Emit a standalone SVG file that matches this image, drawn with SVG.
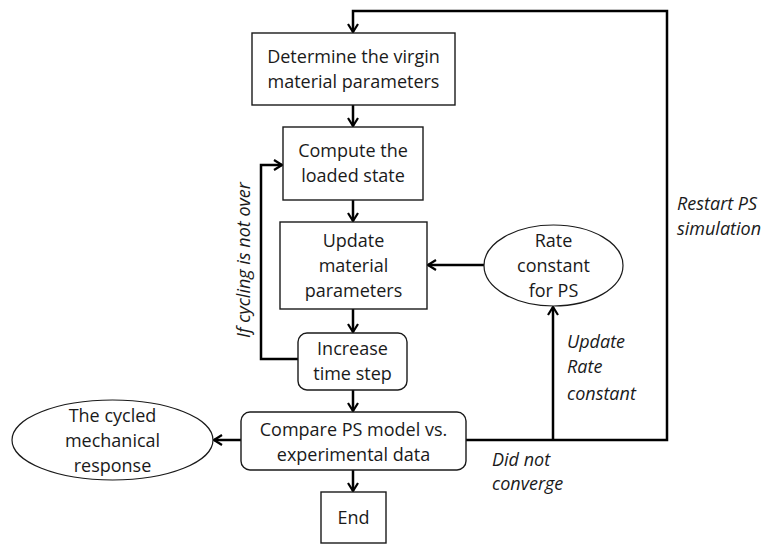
<svg xmlns="http://www.w3.org/2000/svg" width="773" height="547" viewBox="0 0 773 547">
  <style>
    .box { fill: #fff; stroke: #1a1a1a; stroke-width: 1.4; }
    .oval { fill: #fff; stroke: #1a1a1a; stroke-width: 1.2; }
    .wire { fill: none; stroke: #000; stroke-width: 2.5; }
    .t { font-family: "Open Sans", "Liberation Sans", sans-serif; font-size: 18px; fill: #1a1a1a; text-anchor: middle; }
    .lbl { font-family: "Open Sans", "Liberation Sans", sans-serif; font-size: 18px; font-style: italic; fill: #1a1a1a; }
  </style>
  <defs>
    <marker id="arr" viewBox="0 0 10 12" refX="9" refY="6" markerWidth="10" markerHeight="12" markerUnits="userSpaceOnUse" orient="auto">
      <path d="M1,1 L9,6 L1,11" fill="none" stroke="#000" stroke-width="2.2"/>
    </marker>
  </defs>

  <!-- connectors -->
  <g id="connectors">
    <path class="wire" d="M466 440 H667 V11 H353 V32" marker-end="url(#arr)"/>
    <path class="wire" d="M353 105 V126" marker-end="url(#arr)"/>
    <path class="wire" d="M353 200 V221" marker-end="url(#arr)"/>
    <path class="wire" d="M353 309 V332" marker-end="url(#arr)"/>
    <path class="wire" d="M298 359 H261 V165 H282" marker-end="url(#arr)"/>
    <path class="wire" d="M353 390 V411" marker-end="url(#arr)"/>
    <path class="wire" d="M484 265 H428" marker-end="url(#arr)"/>
    <path class="wire" d="M553 440 V307" marker-end="url(#arr)"/>
    <path class="wire" d="M241 440 H214" marker-end="url(#arr)"/>
    <path class="wire" d="M353 470 V491" marker-end="url(#arr)"/>
  </g>

  <g id="virgin">
    <rect class="box" x="252" y="33" width="203" height="72"/>
    <text class="t" x="353.5" y="62.5">Determine the virgin</text>
    <text class="t" x="353.5" y="87.5">material parameters</text>
  </g>

  <g id="loaded">
    <rect class="box" x="283" y="127" width="140" height="73"/>
    <text class="t" x="353" y="157">Compute the</text>
    <text class="t" x="353" y="182">loaded state</text>
  </g>

  <g id="update">
    <rect class="box" x="280" y="222" width="147" height="87"/>
    <text class="t" x="353.5" y="247">Update</text>
    <text class="t" x="353.5" y="272">material</text>
    <text class="t" x="353.5" y="297">parameters</text>
  </g>

  <g id="timestep">
    <rect class="box" x="298" y="333" width="109" height="57" rx="9"/>
    <text class="t" x="352.5" y="355">Increase</text>
    <text class="t" x="352.5" y="380">time step</text>
  </g>

  <g id="compare">
    <rect class="box" x="241" y="412" width="225" height="58" rx="9"/>
    <text class="t" x="353.5" y="436">Compare PS model vs.</text>
    <text class="t" x="353.5" y="461">experimental data</text>
  </g>

  <g id="end">
    <rect class="box" x="321" y="492" width="65" height="51"/>
    <text class="t" x="353.5" y="524">End</text>
  </g>

  <g id="rate">
    <ellipse class="oval" cx="553.5" cy="265.5" rx="69.5" ry="40.5"/>
    <text class="t" x="553.5" y="247">Rate</text>
    <text class="t" x="553.5" y="272">constant</text>
    <text class="t" x="553.5" y="297">for PS</text>
  </g>

  <g id="response">
    <ellipse class="oval" cx="112.5" cy="440" rx="100.5" ry="40"/>
    <text class="t" x="112.5" y="421.5">The cycled</text>
    <text class="t" x="112.5" y="446.5">mechanical</text>
    <text class="t" x="112.5" y="471.5">response</text>
  </g>

  <!-- edge labels -->
  <g id="labels">
    <text class="lbl" x="677" y="210">Restart PS</text>
    <text class="lbl" x="677" y="235">simulation</text>
    <text class="lbl" x="567" y="348">Update</text>
    <text class="lbl" x="567" y="373">Rate</text>
    <text class="lbl" x="567" y="400">constant</text>
    <text class="lbl" x="492" y="466">Did not</text>
    <text class="lbl" x="492" y="490">converge</text>
    <text class="lbl" text-anchor="middle" transform="translate(250 260) rotate(-90)">If cycling is not over</text>
  </g>
</svg>
